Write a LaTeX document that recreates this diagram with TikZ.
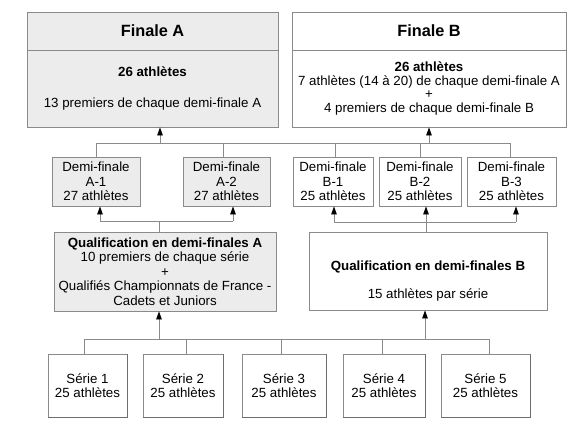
\documentclass[tikz,border=0pt]{standalone}
\usepackage{fontspec}
\setmainfont{Liberation Sans}
\usetikzlibrary{arrows.meta}
\definecolor{boxfill}{HTML}{ECECEC}
\definecolor{boxline}{HTML}{8A8A8A}
\definecolor{shadline}{HTML}{6E6E6E}
\tikzset{
  box/.style={draw=boxline, line width=0.8pt, inner sep=0pt, align=center,
    font=\fontsize{13.3}{14.5}\selectfont},
  grey/.style={fill=boxfill},
  titlebox/.style={box, font=\fontsize{16.3}{19}\selectfont\bfseries},
  conn/.style={draw=boxline, line width=0.8pt},
  arr/.style={conn, -{Triangle[width=5.5pt,length=8pt,fill=black,color=black]}},
  shad/.style={draw=shadline, line width=1.6pt}
}
\begin{document}
\begin{tikzpicture}[x=1pt,y=-1pt]
\useasboundingbox (0,0) rectangle (588,429);
\fill[white] (0,0) rectangle (588,429);
% Finale A
\node[titlebox,grey,minimum width=251pt,minimum height=38pt] (finAt) at (152.5,31) {Finale A};
\node[box,grey,minimum width=251pt,minimum height=77pt] (finAb) at (152.5,88.5)
  {\textbf{26 athlètes}\\[16.5pt]13 premiers de chaque demi-finale A};
% Finale B
\node[titlebox,minimum width=274pt,minimum height=38pt] (finBt) at (429,31) {Finale B};
\node[box,minimum width=274pt,minimum height=77pt,font=\fontsize{13.3}{13.7}\selectfont] (finBb) at (429,88.5)
  {\textbf{26 athlètes}\\7 athlètes (14 à 20) de chaque demi-finale A\\+\\4 premiers de chaque demi-finale B};
% Demi-finales
\node[box,grey,minimum width=88pt,minimum height=49pt] (a1) at (96,181.5) {Demi-finale\\A-1\\27 athlètes};
\node[box,grey,minimum width=87pt,minimum height=49pt] (a2) at (226.5,181.5) {Demi-finale\\A-2\\27 athlètes};
\node[box,minimum width=80pt,minimum height=49pt] (b1) at (333,181.5) {Demi-finale\\B-1\\25 athlètes};
\node[box,minimum width=82pt,minimum height=49pt] (b2) at (420,181.5) {Demi-finale\\B-2\\25 athlètes};
\node[box,minimum width=89pt,minimum height=49pt] (b3) at (511.5,181.5) {Demi-finale\\B-3\\25 athlètes};
% Qualifications
\node[box,grey,minimum width=222pt,minimum height=79pt] (qa) at (165,271.5)
  {\textbf{Qualification en demi-finales A}\\10 premiers de chaque série\\+\\Qualifiés Championnats de France -\\Cadets et Juniors};
\node[box,minimum width=238pt,minimum height=78pt] (qb) at (428,271) {};
\node[box,draw=none] (qbt) at (428,281)
  {\textbf{Qualification en demi-finales B}\\[13.5pt]15 athlètes par série};
% Series
\node[box,minimum width=79pt,minimum height=63pt] (s1) at (87.5,385.5) {Série 1\\25 athlètes};
\node[box,minimum width=80pt,minimum height=63pt] (s2) at (183,385.5) {Série 2\\25 athlètes};
\node[box,minimum width=84pt,minimum height=63pt] (s3) at (284,385.5) {Série 3\\25 athlètes};
\node[box,minimum width=82pt,minimum height=63pt] (s4) at (384,385.5) {Série 4\\25 athlètes};
\node[box,minimum width=89pt,minimum height=63pt] (s5) at (485.5,385.5) {Série 5\\25 athlètes};
\foreach \s in {s1,s2,s3,s4,s5}{
  \draw[shad] (\s.south west) -- (\s.south east) -- (\s.north east);
}
% junction levels
\coordinate (jt) at (0,143);
\coordinate (jma) at (0,221);
\coordinate (jmb) at (0,222);
\coordinate (jb) at (0,339);
% top connectors
\draw[conn] (a1.north |- jt) -- ([xshift=-1.5pt]b3.north |- jt);
\draw[conn] (a1.north) -- (a1.north |- jt);
\draw[conn] ([xshift=-3.5pt]a2.north) -- ([xshift=-3.5pt]a2.north |- jt);
\draw[conn] ([xshift=2pt]b1.north) -- ([xshift=2pt]b1.north |- jt);
\draw[conn] (b2.north) -- (b2.north |- jt);
\draw[conn] ([xshift=-1.5pt]b3.north) -- ([xshift=-1.5pt]b3.north |- jt);
\draw[arr] ([xshift=7.5pt]finAb.south |- jt) -- ([xshift=7.5pt]finAb.south);
\draw[arr] (finBb.south |- jt) -- (finBb.south);
% middle A
\draw[conn] ([xshift=4pt]a1.south |- jma) -- ([xshift=6.5pt]a2.south |- jma);
\draw[conn] ([xshift=-6pt]qa.north) -- ([xshift=-6pt]qa.north |- jma);
\draw[arr] ([xshift=4pt]a1.south |- jma) -- ([xshift=4pt]a1.south);
\draw[arr] ([xshift=6.5pt]a2.south |- jma) -- ([xshift=6.5pt]a2.south);
% middle B
\draw[conn] ([xshift=1pt]b1.south |- jmb) -- ([xshift=4.5pt]b3.south |- jmb);
\draw[conn] ([xshift=-2pt]qb.north) -- ([xshift=-2pt]qb.north |- jmb);
\draw[arr] ([xshift=1pt]b1.south |- jmb) -- ([xshift=1pt]b1.south);
\draw[arr] ([xshift=6pt]b2.south |- jmb) -- ([xshift=6pt]b2.south);
\draw[arr] ([xshift=4.5pt]b3.south |- jmb) -- ([xshift=4.5pt]b3.south);
% bottom
\draw[conn] ([xshift=-3.5pt]s1.north |- jb) -- ([xshift=3.5pt]s5.north |- jb);
\draw[conn] ([xshift=-3.5pt]s1.north) -- ([xshift=-3.5pt]s1.north |- jb);
\draw[conn] ([xshift=3pt]s2.north) -- ([xshift=3pt]s2.north |- jb);
\draw[conn] ([xshift=-3pt]s3.north) -- ([xshift=-3pt]s3.north |- jb);
\draw[conn] ([xshift=-2pt]s4.north) -- ([xshift=-2pt]s4.north |- jb);
\draw[conn] ([xshift=3.5pt]s5.north) -- ([xshift=3.5pt]s5.north |- jb);
\draw[arr] ([xshift=-6pt]qa.south |- jb) -- ([xshift=-6pt]qa.south);
\draw[arr] ([xshift=-3pt]qb.south |- jb) -- ([xshift=-3pt]qb.south);
\end{tikzpicture}
\end{document}
